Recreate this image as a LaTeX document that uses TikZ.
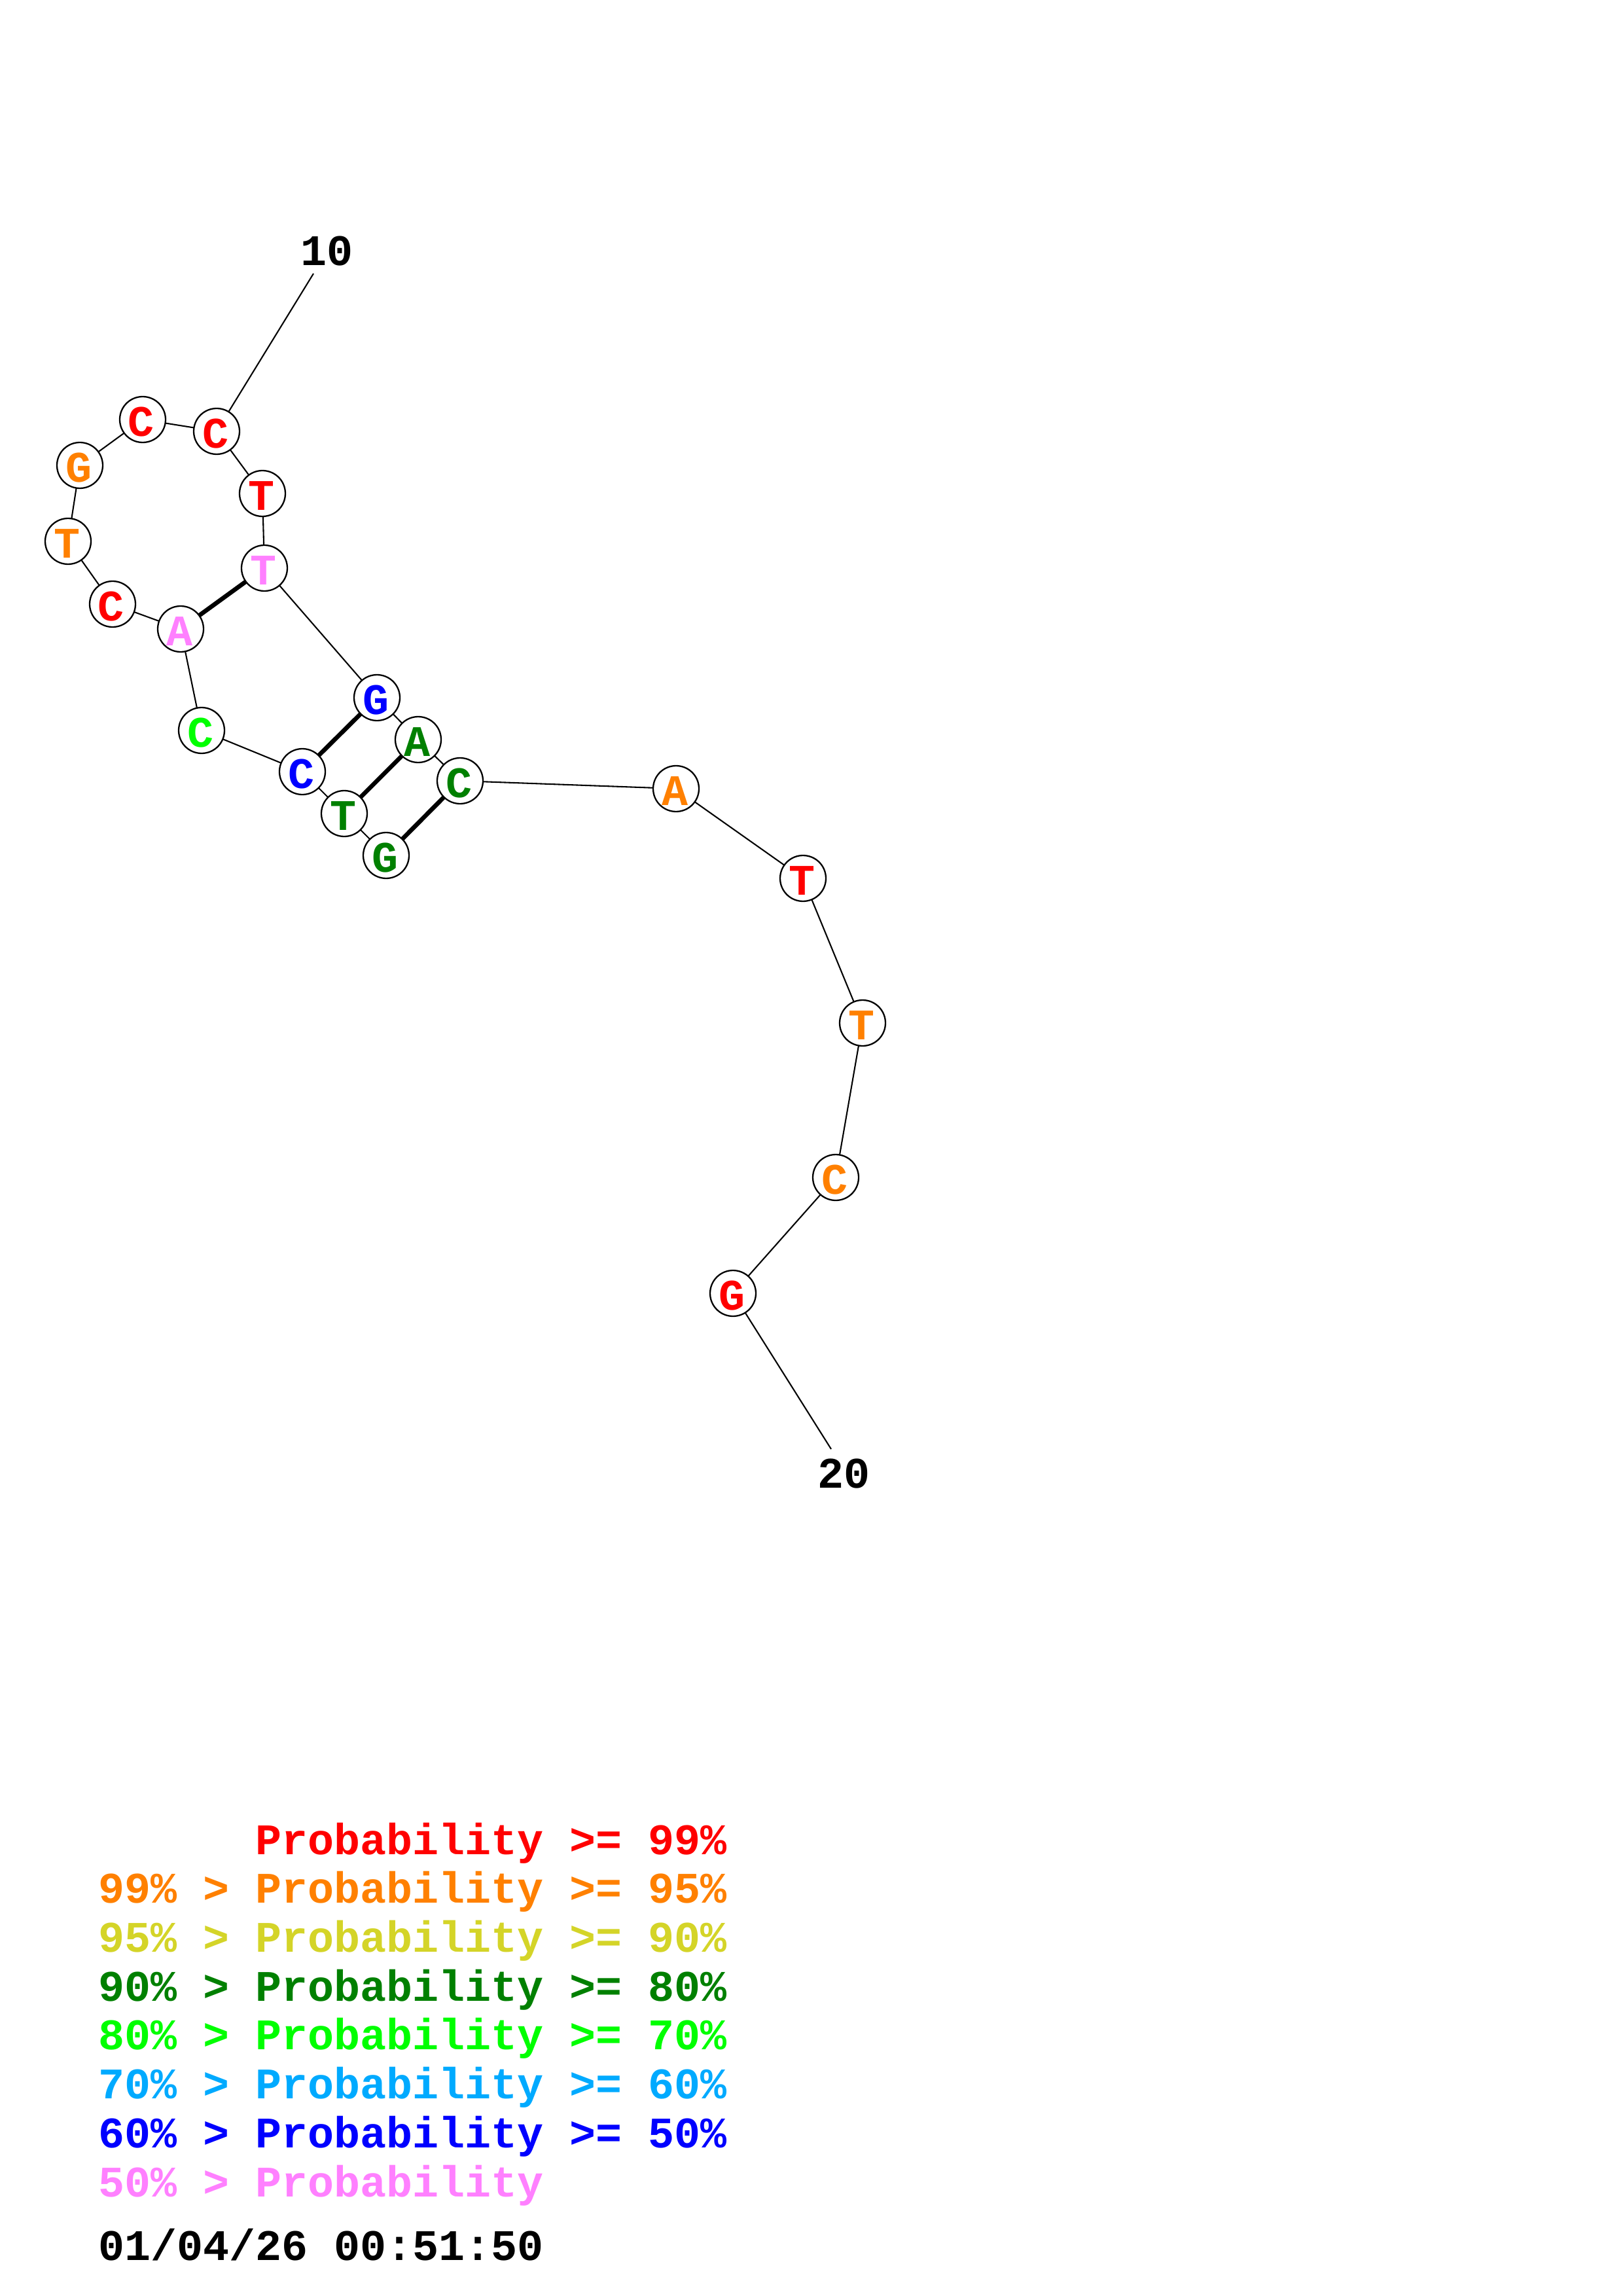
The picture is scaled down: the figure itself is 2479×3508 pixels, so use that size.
\documentclass[tikz,border=0pt]{standalone}
\usepackage{fontspec}
\newfontfamily\rnafont{Liberation Mono}
\definecolor{pr99}{RGB}{255,0,0}
\definecolor{pr95}{RGB}{255,128,0}
\definecolor{pr90}{RGB}{212,212,40}
\definecolor{pr80}{RGB}{0,128,0}
\definecolor{pr70}{RGB}{0,255,0}
\definecolor{pr60}{RGB}{0,170,255}
\definecolor{pr50}{RGB}{0,0,255}
\definecolor{prlo}{RGB}{255,128,255}
\tikzset{
  nuc/.style={circle,draw=black,fill=white,line width=0.55pt,minimum size=16.8pt,inner sep=0pt},
  nuctext/.style={font=\rnafont\bfseries\fontsize{16}{18}\selectfont,inner sep=0pt},
  backbone/.style={line width=0.5pt,black},
  pairbond/.style={line width=1.6pt,black},
  legend/.style={font=\rnafont\bfseries\fontsize{16}{18}\selectfont,anchor=base west,inner sep=0pt},
  numlabel/.style={font=\rnafont\bfseries\fontsize{16}{18}\selectfont,inner sep=0pt}
}
\newcommand{\nt}[5]{%
  \node[nuc] (#1) at (#2,#3) {};
  \node[nuctext,text=#5] (#1l) at ([shift={(-2,4)}]#1.center) {#4};}
\begin{document}
\begin{tikzpicture}[x=0.24pt,y=-0.24pt]
\useasboundingbox (0,0) rectangle (2479,3508);
% backbone edges first (drawn below nodes)
\path
  (590,1307) coordinate (p1)
  (526,1243) coordinate (p2)
  (462,1179) coordinate (p3)
  (308,1116) coordinate (p4)
  (276,961) coordinate (p5)
  (172,923) coordinate (p6)
  (104,827) coordinate (p7)
  (122,711) coordinate (p8)
  (218,641) coordinate (p9)
  (331,659) coordinate (p10)
  (401,754) coordinate (p11)
  (404,868) coordinate (p12)
  (576,1066) coordinate (p13)
  (639,1130) coordinate (p14)
  (703,1193) coordinate (p15)
  (1033,1205) coordinate (p16)
  (1227,1342) coordinate (p17)
  (1318,1563) coordinate (p18)
  (1277,1799) coordinate (p19)
  (1120,1976) coordinate (p20)
  (479,418) coordinate (end10)
  (1270,2214) coordinate (end20);
\draw[backbone] (p1)--(p2)--(p3)--(p4)--(p5)--(p6)--(p7)--(p8)--(p9)--(p10)--(p11)--(p12)--(p13)--(p14)--(p15)--(p16)--(p17)--(p18)--(p19)--(p20);
\draw[backbone] (p10)--(end10);
\draw[backbone] (p20)--(end20);
\draw[pairbond] (p5)--(p12);
\draw[pairbond] (p3)--(p13);
\draw[pairbond] (p2)--(p14);
\draw[pairbond] (p1)--(p15);
% nucleotides
\nt{n1}{590}{1307}{G}{pr80}
\nt{n2}{526}{1243}{T}{pr80}
\nt{n3}{462}{1179}{C}{pr50}
\nt{n4}{308}{1116}{C}{pr70}
\nt{n5}{276}{961}{A}{prlo}
\nt{n6}{172}{923}{C}{pr99}
\nt{n7}{104}{827}{T}{pr95}
\nt{n8}{122}{711}{G}{pr95}
\nt{n9}{218}{641}{C}{pr99}
\nt{n10}{331}{659}{C}{pr99}
\nt{n11}{401}{754}{T}{pr99}
\nt{n12}{404}{868}{T}{prlo}
\nt{n13}{576}{1066}{G}{pr50}
\nt{n14}{639}{1130}{A}{pr80}
\nt{n15}{703}{1193}{C}{pr80}
\nt{n16}{1033}{1205}{A}{pr95}
\nt{n17}{1227}{1342}{T}{pr99}
\nt{n18}{1318}{1563}{T}{pr95}
\nt{n19}{1277}{1799}{C}{pr95}
\nt{n20}{1120}{1976}{G}{pr99}
% numbers
\node[numlabel] (lab10) at (499,384) {10};
\node[numlabel] (lab20) at (1289,2252) {20};
% legend
\node[legend,text=pr99] (lg1) at (390,2833) {Probability >= 99\%};
\node[legend,text=pr95] (lg2) at (150,2907.7) {99\% > Probability >= 95\%};
\node[legend,text=pr90] (lg3) at (150,2982.4) {95\% > Probability >= 90\%};
\node[legend,text=pr80] (lg4) at (150,3057.1) {90\% > Probability >= 80\%};
\node[legend,text=pr70] (lg5) at (150,3131.8) {80\% > Probability >= 70\%};
\node[legend,text=pr60] (lg6) at (150,3206.5) {70\% > Probability >= 60\%};
\node[legend,text=pr50] (lg7) at (150,3281.2) {60\% > Probability >= 50\%};
\node[legend,text=prlo] (lg8) at (150,3356) {50\% > Probability};
\node[legend,text=black] (date) at (150,3453) {01/04/26 00:51:50};
\end{tikzpicture}
\end{document}
